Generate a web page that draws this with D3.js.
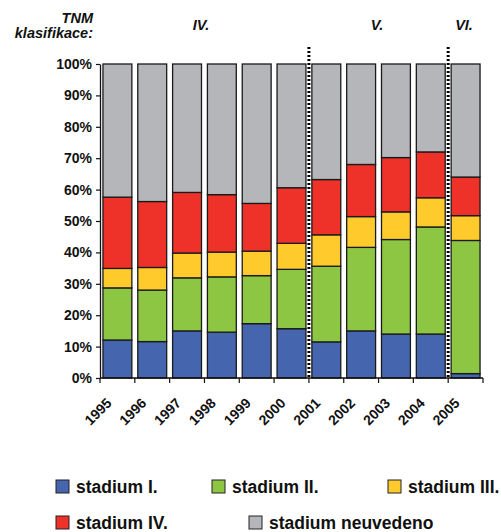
<!DOCTYPE html>
<html>
<head>
<meta charset="utf-8">
<script src="https://cdn.jsdelivr.net/npm/d3@7/dist/d3.min.js"></script>
<style>
  html, body { margin: 0; padding: 0; background: #fff; }
  text { font-family: Arial, "Liberation Sans", Helvetica, sans-serif; font-weight: bold; fill: #111; }
</style>
</head>
<body>
<svg id="chart" width="501" height="532"></svg>
<script>
// ---- data ----
const years = ["1995","1996","1997","1998","1999","2000","2001","2002","2003","2004","2005"];
const seriesNames = ["stadium I.","stadium II.","stadium III.","stadium IV.","stadium neuvedeno"];
const stadiumI   = [12.1, 11.6, 15.0, 14.6, 17.3, 15.7, 11.5, 15.0, 14.0, 14.0, 1.4];
const stadiumII  = [16.6, 16.4, 16.9, 17.6, 15.3, 18.9, 24.1, 26.6, 30.1, 34.1, 42.4];
const stadiumIII = [ 6.2,  7.2,  7.9,  7.9,  7.8,  8.3, 10.0,  9.8,  8.8,  9.3,  7.9];
const stadiumIV  = [22.7, 21.0, 19.3, 18.3, 15.2, 17.7, 17.6, 16.6, 17.3, 14.6, 12.3];
const neuvedeno  = [42.4, 43.8, 40.9, 41.6, 44.4, 39.4, 36.8, 32.0, 29.8, 28.0, 36.0];
const yTicks = [0,10,20,30,40,50,60,70,80,90,100];
const tnmGroups = [{label:"IV.", from:"1995", to:"2000"}, {label:"V.", from:"2001", to:"2004"}, {label:"VI.", from:"2005", to:"2005"}];
const dividerAfter = ["2000","2004"];

// ---- styles / layout ----
const colors = ["#4565AF", "#8DC643", "#FFCA2B", "#EE3129", "#B5B6BA"];
const plot = {left: 100, right: 483, top: 64, bottom: 378};

const svg = d3.select("#chart");

const table = years.map((y, i) => ({
  year: y,
  "stadium I.": stadiumI[i], "stadium II.": stadiumII[i], "stadium III.": stadiumIII[i],
  "stadium IV.": stadiumIV[i], "stadium neuvedeno": neuvedeno[i]
}));
const stacked = d3.stack().keys(seriesNames)(table);

const xTick = d3.scaleBand().domain(years).range([plot.left, plot.right]).padding(0);
const xBar = d3.scaleBand().domain(years).range([plot.left, plot.right]).paddingInner(0.17).paddingOuter(0.085);
const y = d3.scaleLinear().domain([0, 100]).range([plot.bottom, plot.top]);

// bars
svg.append("g").selectAll("g").data(stacked).join("g")
  .attr("fill", (d, i) => colors[i])
  .selectAll("rect").data(d => d).join("rect")
  .attr("x", d => xBar(d.data.year))
  .attr("width", xBar.bandwidth())
  .attr("y", d => y(d[1]))
  .attr("height", d => y(d[0]) - y(d[1]))
  .attr("stroke", "#1a1a1a")
  .attr("stroke-width", 1.3);

// y axis
const yAxis = svg.append("g").attr("transform", `translate(${plot.left},0)`)
  .call(d3.axisLeft(y).tickValues(yTicks).tickFormat(d => d + "%").tickSize(4).tickSizeOuter(0));
yAxis.select(".domain").attr("stroke", "#111").attr("stroke-width", 1.3);
yAxis.selectAll(".tick line").attr("stroke", "#111").attr("stroke-width", 1.2);
yAxis.selectAll(".tick text").attr("font-size", 14).attr("font-weight", "bold")
  .attr("font-family", "Arial, 'Liberation Sans', sans-serif").attr("fill", "#111").attr("x", -8);

// x axis line and boundary ticks
svg.append("line").attr("x1", plot.left).attr("x2", plot.right)
  .attr("y1", y(0)).attr("y2", y(0)).attr("stroke", "#111").attr("stroke-width", 1.3);
const boundaries = years.map(yr => xTick(yr)).concat([xTick(years[years.length-1]) + xTick.step()]);
svg.append("g").selectAll("line").data(boundaries).join("line")
  .attr("x1", d => d).attr("x2", d => d)
  .attr("y1", y(0)).attr("y2", y(0) + 5)
  .attr("stroke", "#111").attr("stroke-width", 1.2);

// x labels
svg.append("g").selectAll("text").data(years).join("text")
  .attr("transform", d => `translate(${xTick(d) + xTick.bandwidth()/2 - 5},${y(0) + 26}) rotate(-45)`)
  .attr("text-anchor", "end")
  .attr("font-size", 14)
  .text(d => d);

// dotted dividers
svg.append("g").selectAll("line").data(dividerAfter).join("line")
  .attr("x1", d => xTick(d) + xTick.step()).attr("x2", d => xTick(d) + xTick.step())
  .attr("y1", 47).attr("y2", y(0))
  .attr("stroke", "#000").attr("stroke-width", 3).attr("stroke-dasharray", "2,2");

// TNM header
svg.append("text").attr("x", 93).attr("y", 22.5).attr("text-anchor", "end")
  .attr("font-size", 14.5).attr("font-style", "italic").text("TNM");
svg.append("text").attr("x", 93).attr("y", 37.5).attr("text-anchor", "end")
  .attr("font-size", 14.5).attr("font-style", "italic").text("klasifikace:");
const groupLabelX = [201, 377, 464];
svg.append("g").selectAll("text").data(tnmGroups).join("text")
  .attr("x", (d, i) => groupLabelX[i]).attr("y", 29.5)
  .attr("text-anchor", "middle").attr("font-size", 14.5).attr("font-style", "italic")
  .text(d => d.label);

// legend
const legendPos = [[56,480],[212,480],[388,480],[56,516],[249,516]];
const lg = svg.append("g").selectAll("g").data(seriesNames).join("g")
  .attr("transform", (d, i) => `translate(${legendPos[i][0]},${legendPos[i][1]})`);
lg.append("rect").attr("width", 13).attr("height", 13)
  .attr("fill", (d, i) => colors[i]).attr("stroke", "#222").attr("stroke-width", 1);
lg.append("text").attr("x", 20).attr("y", 13).attr("font-size", 17.5).text(d => d);
</script>
</body>
</html>
